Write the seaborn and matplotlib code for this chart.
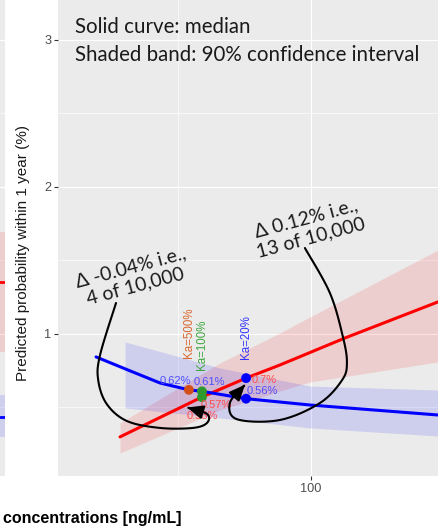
import numpy as np
import pandas as pd
import matplotlib
matplotlib.use("Agg")
import matplotlib.pyplot as plt
import seaborn as sns
from matplotlib.path import Path
from matplotlib.patches import FancyArrowPatch

# ---------------- data ----------------
red_conc = [28.2, 59.0, 75.6, 88.3, 112.8, 147.7]
red_median = [0.30, 0.571, 0.70, 0.789, 0.973, 1.218]
red_band_conc = [28.2, 65.8, 88.3, 99.6, 147.7]
red_upper = [0.395, 0.803, 1.007, 1.116, 1.571]
red_lower = [0.190, 0.483, 0.612, 0.673, 0.810]

blue_conc = [19.2, 31.2, 43.2, 54.1, 59.0, 75.6, 99.6, 147.7]
blue_median = [0.844, 0.755, 0.667, 0.62, 0.61, 0.56, 0.517, 0.449]
blue_band_conc = [30.1, 65.8, 99.6, 147.7]
blue_upper = [0.946, 0.769, 0.646, 0.619]
blue_lower = [0.497, 0.429, 0.361, 0.306]

ka_names = ["Ka=500%", "Ka=100%", "Ka=20%"]
ka_conc = [54.1, 59.0, 75.6]
ka_blue = [0.62, 0.61, 0.56]
ka_red = [0.53, 0.57, 0.70]
ka_blue_labels = ["0.62%", "0.61%", "0.56%"]
ka_red_labels = ["0.53%", "0.57%", "0.7%"]

# neighbouring panel (only its right edge is visible)
strip_red = [1.354, 1.354]
strip_red_lo = [0.878, 0.878]
strip_red_hi = [1.694, 1.694]
strip_blue = [0.435, 0.435]
strip_blue_lo = [0.299, 0.299]
strip_blue_hi = [0.585, 0.585]

y_ticks = [1, 2, 3]
x_ticks = [0, 100, 200]

# ---------------- styling ----------------
sns.set_theme(style="darkgrid")
plt.rcParams["font.family"] = ["Liberation Sans", "DejaVu Sans"]

BG = "#EBEBEB"
RED = "#FF0000"
BLUE = "#0000FF"
ka_point_colors = ["#D4501A", "#2E9A2E", "#0000FF"]
ka_text_colors = ["#D9662E", "#3DA63D", "#3333FF"]

W, H = 438, 526
fig = plt.figure(figsize=(W / 100, H / 100), dpi=100)
fig.patch.set_facecolor("white")

# left neighbour strip
axs = fig.add_axes([0, 50 / H, 4.5 / W, 476 / H])
axs.set_facecolor(BG)
axs.fill_between([0, 1], strip_red_lo, strip_red_hi, color=RED, alpha=0.12, lw=0)
axs.fill_between([0, 1], strip_blue_lo, strip_blue_hi, color=BLUE, alpha=0.12, lw=0)
sns.lineplot(x=[0, 1], y=strip_red, ax=axs, color=RED, lw=2)
sns.lineplot(x=[0, 1], y=strip_blue, ax=axs, color=BLUE, lw=2)
axs.grid(False)
for yv in [0.5, 1, 1.5, 2, 2.5, 3]:
    axs.axhline(yv, color="white", lw=0.8 if yv % 1 == 0 else 0.45, zorder=0)
axs.set_xticks([]); axs.set_yticks([])
axs.set_xlim(0, 1)
axs.set_ylim(0.034, 3.272)
for s in axs.spines.values():
    s.set_visible(False)

# main panel
ax = fig.add_axes([58 / W, 50 / H, 380 / W, 476 / H])
ax.set_facecolor(BG)

ax.fill_between(red_band_conc, red_lower, red_upper, color=RED, alpha=0.12, lw=0, zorder=1)
ax.fill_between(blue_band_conc, blue_lower, blue_upper, color=BLUE, alpha=0.12, lw=0, zorder=1)

df_red = pd.DataFrame({"conc": red_conc, "p": red_median})
df_blue = pd.DataFrame({"conc": blue_conc, "p": blue_median})
sns.lineplot(data=df_red, x="conc", y="p", ax=ax, color=RED, lw=2.2, zorder=3)
sns.lineplot(data=df_blue, x="conc", y="p", ax=ax, color=BLUE, lw=2.2, zorder=3)

# Ka points (visible ones)
pts = pd.DataFrame({
    "conc": [ka_conc[0], ka_conc[1], ka_conc[1], ka_conc[2], ka_conc[2]],
    "p": [ka_blue[0], ka_blue[1], ka_red[1], ka_red[2], ka_blue[2]],
    "ka": [ka_names[0], ka_names[1], ka_names[1], ka_names[2], ka_names[2]],
})
sns.scatterplot(data=pts, x="conc", y="p", hue="ka", palette=dict(zip(ka_names, ka_point_colors)),
                s=50, edgecolor="none", legend=False, ax=ax, zorder=5)

# Ka vertical labels
ka_label_offsets = [23, 15, 14]
ka_label_base = [ka_blue[0], ka_blue[1], ka_red[2]]
for name, xc, yb, off, col in zip(ka_names, ka_conc, ka_label_base, ka_label_offsets, ka_text_colors):
    ax.annotate(name, (xc, yb), xytext=(0, off), textcoords="offset points",
                rotation=90, ha="center", va="bottom", fontsize=8.3, color=col, zorder=6)

# percentage labels
blue_lab_off = [(-10, 6.5), (5.5, 7), (12, 5.6)]
red_lab_off = [(10, -9), (10.5, -5.5), (13, -1.2)]
for xc, yv, lab, off in zip(ka_conc, ka_blue, ka_blue_labels, blue_lab_off):
    ax.annotate(lab, (xc, yv), xytext=off, textcoords="offset points", ha="center", va="center",
                fontsize=8.0, color="#4D4DFF", zorder=6)
for xc, yv, lab, off in zip(ka_conc, ka_red, ka_red_labels, red_lab_off):
    ax.annotate(lab, (xc, yv), xytext=off, textcoords="offset points", ha="center", va="center",
                fontsize=8.0, color="#FF4D4D", zorder=6)

# axes, grid (ticks first, limits after so the view is not expanded)
ax.set_xticks(x_ticks)
ax.set_xticklabels([str(v) for v in x_ticks])
ax.set_xticks([50, 150], minor=True)
ax.set_yticks(y_ticks)
ax.set_yticklabels([str(v) for v in y_ticks])
ax.set_yticks([0.5, 1.5, 2.5], minor=True)
ax.set_xlim(4.89, 147.74)
ax.set_ylim(0.034, 3.272)
ax.grid(which="major", color="white", lw=0.8)
ax.grid(which="minor", color="white", lw=0.45)
ax.set_axisbelow(True)
ax.tick_params(axis="both", which="major", length=3, width=0.8, color="#333333",
               labelsize=9.2, labelcolor="#4D4D4D", pad=2)
ax.tick_params(axis="both", which="minor", length=0)
ax.tick_params(axis="x", bottom=True)
ax.tick_params(axis="y", left=True)
ax.set_xlabel("")
ax.set_ylabel("")
for s in ax.spines.values():
    s.set_visible(False)

# top explanatory text
ann_font = ["Lato", "DejaVu Sans"]
ax.text(0.0447, 0.9307, "Solid curve: median", transform=ax.transAxes, fontsize=14.8,
        family=ann_font, color="#1A1A1A", va="baseline", ha="left")
ax.text(0.0447, 0.8718, "Shaded band: 90% confidence interval", transform=ax.transAxes,
        fontsize=14.8, family=ann_font, color="#1A1A1A", va="baseline", ha="left")

# delta annotations
ax.text(33.1, 1.388, "Δ -0.04% i.e.,\n4 of 10,000", rotation=15, rotation_mode="anchor",
        ha="center", va="center", multialignment="center", fontsize=14, family=ann_font,
        color="#1A1A1A", linespacing=1.15, zorder=7)
ax.text(98.9, 1.721, "Δ 0.12% i.e.,\n13 of 10,000", rotation=15, rotation_mode="anchor",
        ha="center", va="center", multialignment="center", fontsize=14, family=ann_font,
        color="#1A1A1A", linespacing=1.15, zorder=7)


def catmull(points, n=12):
    p = np.asarray(points, dtype=float)
    p = np.vstack([p[0], p, p[-1]])
    out = []
    for i in range(1, len(p) - 2):
        p0, p1, p2, p3 = p[i - 1], p[i], p[i + 1], p[i + 2]
        for t in np.linspace(0, 1, n, endpoint=False):
            t2, t3 = t * t, t * t * t
            out.append(0.5 * ((2 * p1) + (-p0 + p2) * t + (2 * p0 - 5 * p1 + 4 * p2 - p3) * t2
                              + (-p0 + 3 * p1 - 3 * p2 + p3) * t3))
    out.append(p[-2])
    return np.array(out)


left_arrow = [(26.7, 1.211), (20.7, 0.857), (20.0, 0.687), (23.2, 0.524), (30.8, 0.408),
              (43.2, 0.361), (55.6, 0.361), (60.9, 0.395), (60.9, 0.456), (53.5, 0.50)]
right_arrow = [(97.7, 1.585), (107.1, 1.279), (112.0, 0.980), (113.5, 0.803), (111.7, 0.687),
               (103.4, 0.531), (88.3, 0.415), (72.2, 0.42), (69.5, 0.531), (75.2, 0.655)]
for pts_ in (left_arrow, right_arrow):
    verts = catmull(pts_)
    path = Path(verts)
    arr = FancyArrowPatch(path=path, arrowstyle="-|>,head_length=0.8,head_width=0.35",
                          mutation_scale=12, lw=1.5, color="black", zorder=8)
    ax.add_patch(arr)

# axis titles (cut off as in reference)
fig.text(23.5 / W, 1 - 253 / H, "Predicted probability within 1 year (%)", rotation=90,
         ha="center", va="center", fontsize=11, color="#1A1A1A")
fig.text(3 / W, 1 - 518 / H, "concentrations [ng/mL]", ha="left", va="center",
         fontsize=11.5, fontweight="bold", color="black")

fig.savefig("out.png", dpi=100)
